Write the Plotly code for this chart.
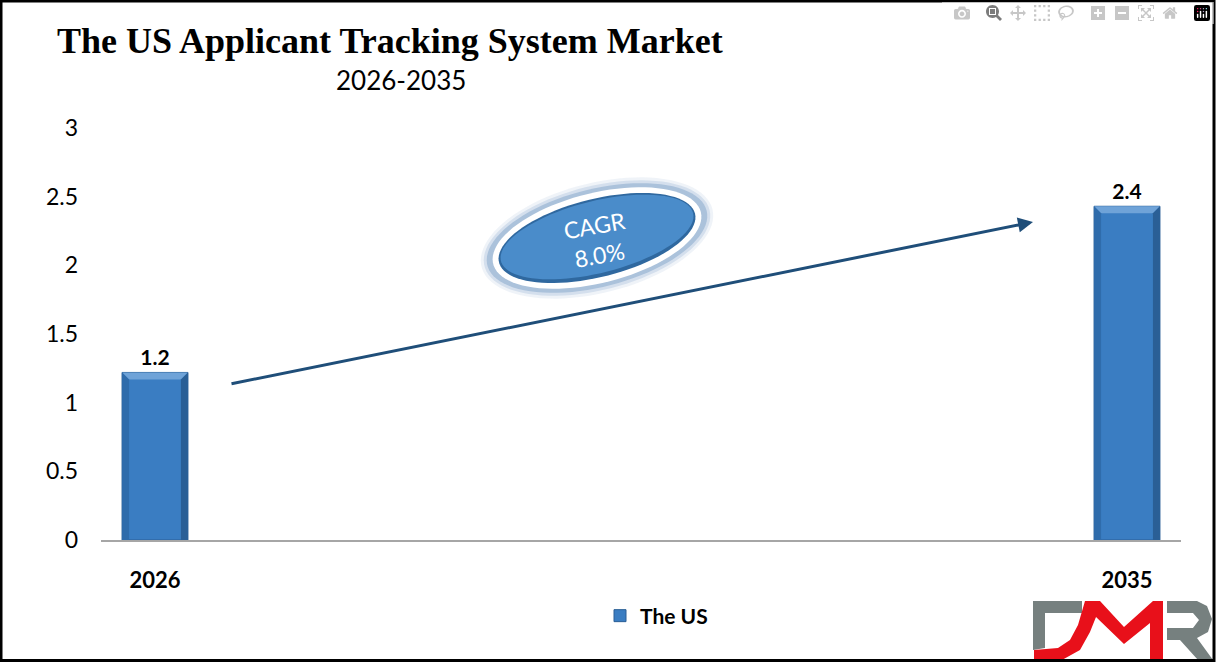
import numpy as np
import plotly.graph_objects as go

years = [2026, 2035]
values = [1.22, 2.43]
series_name = "The US"
y_ticks = [0, 0.5, 1, 1.5, 2, 2.5, 3]
y_tick_labels = ["0", "0.5", "1", "1.5", "2", "2.5", "3"]

W, H = 1216, 663
# plot area in image pixels
L, R, T, B = 101, 1181, 128, 540
BAR_W = 0.61
BLUE = "#3a7dc2"


def fx(x):
    return (x - L) / (R - L)


def fy(y):
    return (B - y) / (B - T)


def poly(points):
    return "M" + " L".join(f"{fx(x):.5f},{fy(y):.5f}" for x, y in points) + " Z"


def ellipse(cx, cy, a, b, deg=-14):
    t = np.linspace(0, 2 * np.pi, 90)
    r = np.radians(deg)
    xs = cx + a * np.cos(t) * np.cos(r) - b * np.sin(t) * np.sin(r)
    ys = cy + a * np.cos(t) * np.sin(r) + b * np.sin(t) * np.cos(r)
    return poly(list(zip(xs, ys)))


def paper_shape(path, fill, opacity=1):
    return dict(type="path", xref="paper", yref="paper", path=path, fillcolor=fill,
                opacity=opacity, line=dict(width=0), layer="above")


fig = go.Figure()
fig.add_trace(go.Bar(
    x=years, y=values, name=series_name, width=BAR_W,
    marker=dict(color=BLUE, line=dict(color="#2a5f96", width=1)),
    text=[f"{v:.1f}" for v in values], textposition="outside", cliponaxis=False,
    textfont=dict(family="Lato", size=21, color="#000000", weight="bold"),
    showlegend=True,
))

shapes = []

# bevel on the bars
dx = 7 / 108
dy = 7 / ((B - T) / 3)
for yr, v in zip(years, values):
    x0, x1 = yr - BAR_W / 2, yr + BAR_W / 2
    bevels = [
        ([(x0, v), (x1, v), (x1 - dx, v - dy), (x0 + dx, v - dy)], "#6fa3d8"),
        ([(x0, v), (x0 + dx, v - dy), (x0 + dx, 0), (x0, 0)], "#2f6cab"),
        ([(x1, v), (x1 - dx, v - dy), (x1 - dx, 0), (x1, 0)], "#2a5f96"),
    ]
    for pts, col in bevels:
        path = "M" + " L".join(f"{a},{b}" for a, b in pts) + " Z"
        shapes.append(dict(type="path", xref="x", yref="y", path=path, fillcolor=col,
                           line=dict(width=0), layer="above"))

# CAGR ellipse: glow, white ring, darker rim, face
cx, cy = 597, 238
for grow, op in [(10, 0.08), (7, 0.14), (4, 0.25)]:
    shapes.append(paper_shape(ellipse(cx, cy, 109 + grow, 45 + grow), "#2f6ca8", op))
shapes.append(paper_shape(ellipse(cx, cy, 107, 45), "#ffffff"))
shapes.append(paper_shape(ellipse(cx, cy, 101, 39), "#2f689f"))
shapes.append(paper_shape(ellipse(cx, cy - 1, 99, 36), "#4a8cca"))

# logo
GRAY = "#76807f"
RED = "#e8101a"
shapes.append(paper_shape(poly([(1033, 601), (1082, 601), (1082, 613), (1045, 613),
                                (1045, 648), (1033, 650)]), GRAY))
shapes.append(paper_shape(poly([(1034, 650), (1058, 648), (1070, 640), (1078, 625),
                                (1085, 601), (1100, 601), (1124, 627), (1153, 601),
                                (1163, 601), (1163, 660), (1150, 660), (1150, 623),
                                (1124, 644), (1096, 617), (1090, 632), (1080, 650),
                                (1062, 660), (1034, 660)]), RED))
shapes.append(paper_shape(poly([(1167, 601), (1197, 601), (1207, 606), (1212, 619),
                                (1208, 632), (1197, 638), (1213, 660), (1198, 660),
                                (1180, 640), (1167, 640), (1167, 628), (1193, 628),
                                (1199, 620), (1193, 613), (1167, 613)]), GRAY))

# frame round the picture
shapes.append(dict(type="rect", xref="paper", yref="paper", x0=fx(1), x1=fx(1214),
                   y0=fy(660.5), y1=fy(1), line=dict(color="#000000", width=3), layer="above"))

annotations = [
    dict(text="2026-2035", xref="paper", yref="paper", x=fx(401), y=fy(80), showarrow=False,
         xanchor="center", yanchor="middle", font=dict(family="Lato", size=26, color="#000000")),
    dict(text="CAGR<br>8.0%", xref="paper", yref="paper", x=fx(597), y=fy(240), showarrow=False,
         textangle=-10, xanchor="center", yanchor="middle",
         font=dict(family="Lato", size=23, color="#ffffff")),
    dict(text="", xref="paper", yref="paper", x=fx(1033), y=fy(222), ax=230 - 1033, ay=384 - 222,
         showarrow=True, arrowhead=2, arrowsize=1, arrowwidth=3, arrowcolor="#1f4e79"),
]

fig.update_layout(
    width=W, height=H,
    margin=dict(l=L, r=W - R, t=T, b=H - B, autoexpand=False),
    paper_bgcolor="#ffffff", plot_bgcolor="#ffffff",
    title=dict(text="<b>The US Applicant Tracking System Market</b>",
               x=57 / W, xanchor="left", xref="container",
               y=1 - 40 / H, yanchor="middle", yref="container",
               font=dict(family="Liberation Serif", size=36, color="#000000")),
    legend=dict(x=fx(600), y=fy(616), xanchor="left", yanchor="middle", orientation="h",
                font=dict(family="Lato", size=21, color="#000000", weight="bold")),
    shapes=shapes, annotations=annotations,
)
fig.update_xaxes(range=[2025.5, 2035.5], tickmode="array", tickvals=years,
                 ticktext=[str(y) for y in years], showgrid=False, zeroline=False,
                 showline=True, linecolor="#a6a6a6", linewidth=1.5, ticks="", ticklabelstandoff=20,
                 tickfont=dict(family="Lato", size=22, color="#000000", weight="bold"))
fig.update_yaxes(range=[0, 3], tickmode="array", tickvals=y_ticks, ticktext=y_tick_labels,
                 showgrid=False, zeroline=False, showline=False, ticks="", ticklabelstandoff=22,
                 tickfont=dict(family="Lato", size=23, color="#000000"))

fig.write_html("out.html", post_script="document.body.style.margin='0';")
